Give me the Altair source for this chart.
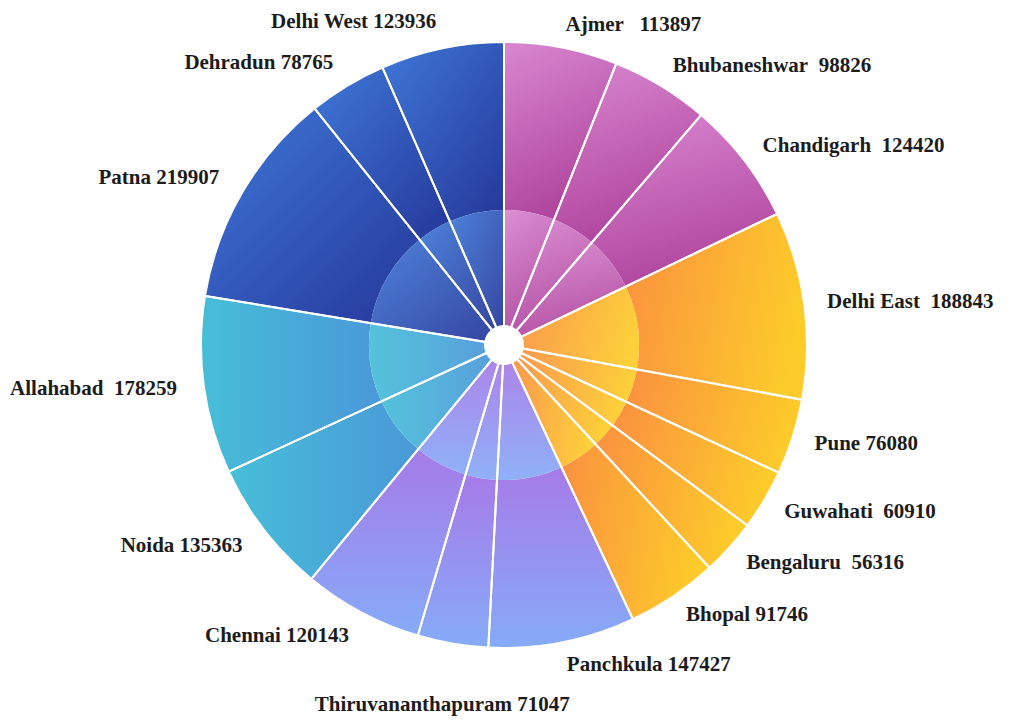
import altair as alt
import pandas as pd

cities = ["Ajmer", "Bhubaneshwar", "Chandigarh", "Delhi East", "Pune", "Guwahati",
          "Bengaluru", "Bhopal", "Panchkula", "Thiruvananthapuram", "Chennai", "Noida",
          "Allahabad", "Patna", "Dehradun", "Delhi West"]
values = [113897, 98826, 124420, 188843, 76080, 60910, 56316, 91746, 147427, 71047,
          120143, 135363, 178259, 219907, 78765, 123936]
groups = ["magenta"] * 3 + ["orange"] * 5 + ["lavender"] * 3 + ["cyan"] * 2 + ["blue"] * 3
# number of spaces between the name and the number in each label
label_gaps = [3, 2, 2, 2, 1, 2, 2, 1, 1, 1, 1, 1, 2, 1, 1, 1]

df = pd.DataFrame({"city": cities, "value": values, "group": groups,
                   "idx": list(range(len(cities)))})
df["label"] = [c + "\u00a0" * g + str(v) for c, g, v in zip(cities, label_gaps, values)]
total = int(sum(values))

theta_scale = alt.Scale(domain=[0, total])

base = alt.Chart(df).transform_window(
    cum="sum(value)",
    sort=[alt.SortField("idx", order="ascending")],
    frame=[None, 0],
).transform_calculate(
    start="datum.cum - datum.value",
    mid="datum.cum - datum.value / 2",
    deg=f"360 * (datum.cum - datum.value / 2) / {total}",
)


def grad(c1, c2, x1, y1, x2, y2):
    return alt.LinearGradient(
        gradient="linear",
        stops=[alt.GradientStop(offset=0, color=c1), alt.GradientStop(offset=1, color=c2)],
        x1=x1, y1=y1, x2=x2, y2=y2,
    )


gradients = {
    "magenta": grad("#d987d0", "#b0469f", 0, 0, 0.3, 1),
    "orange": grad("#fb923f", "#fdcc2a", 0, 0.2, 1, 0.4),
    "lavender": grad("#a67be8", "#86abf8", 0.5, 0, 0.5, 1),
    "cyan": grad("#47bed8", "#4a98d8", 0, 0.5, 1, 0.5),
    "blue": grad("#3f78d8", "#25379a", 0, 0, 1, 1),
}

theta_enc = alt.Theta("start:Q", scale=theta_scale, stack=None)
theta2_enc = alt.Theta2("cum:Q")

layers = []
for g, gr in gradients.items():
    for ir, r in [(135, 303), (19, 135)]:
        layers.append(
            base.transform_filter(alt.datum.group == g)
            .mark_arc(innerRadius=ir, radius=r, fill=gr)
            .encode(theta=theta_enc, theta2=theta2_enc)
        )

# inner lighter disc
layers.append(
    base.mark_arc(innerRadius=19, radius=135, fill="white", fillOpacity=0.08)
    .encode(theta=theta_enc, theta2=theta2_enc)
)

# white separators
layers.append(
    base.mark_arc(innerRadius=19, radius=303, fillOpacity=0, stroke="white", strokeWidth=2)
    .encode(theta=theta_enc, theta2=theta2_enc)
)

for cond, align, rad in [
    ("datum.deg < 175", "left", 326),
    ("datum.deg >= 175 && datum.deg < 200", "center", 365),
    ("datum.deg >= 200", "right", 330),
]:
    layers.append(
        base.transform_filter(cond)
        .mark_text(align=align, baseline="middle", radius=rad, font="Liberation Serif",
                   fontSize=21, fontWeight="bold", color="#1c1c1c")
        .encode(theta=alt.Theta("mid:Q", scale=theta_scale, stack=None), text="label:N")
    )

chart = alt.layer(*layers).properties(
    width=992,
    height=674,
    autosize=alt.AutoSizeParams(type="none"),
    padding={"left": 0, "top": 0, "right": 22, "bottom": 35},
).configure_view(stroke=None)

chart.save("out.html", embed_options={"renderer": "svg", "actions": False})
